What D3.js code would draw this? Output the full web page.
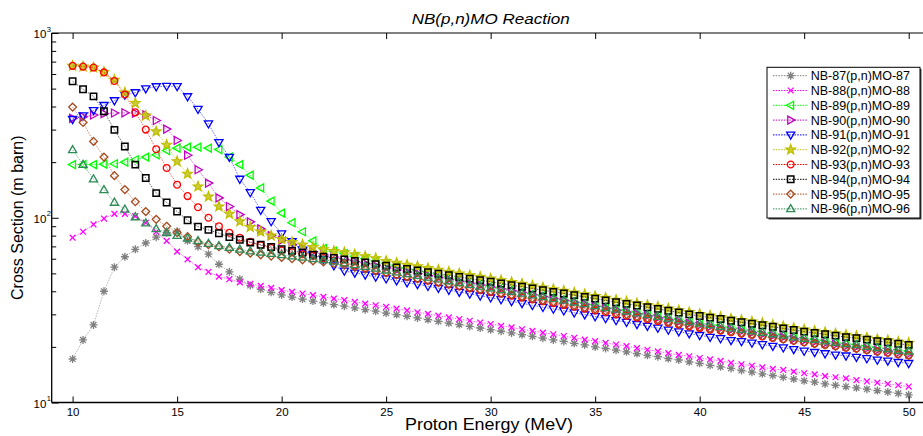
<!DOCTYPE html>
<html><head><meta charset="utf-8">
<script src="https://cdn.jsdelivr.net/npm/d3@7"></script>
<style>body{margin:0;background:#fff}svg{display:block}text{font-family:"Liberation Sans",Arial,Helvetica,sans-serif}</style>
</head><body><svg id="c" width="923" height="436"></svg>
<script>
const energies=[10,10.5,11,11.5,12,12.5,13,13.5,14,14.5,15,15.5,16,16.5,17,17.5,18,18.5,19,19.5,20,20.5,21,21.5,22,22.5,23,23.5,24,24.5,25,25.5,26,26.5,27,27.5,28,28.5,29,29.5,30,30.5,31,31.5,32,32.5,33,33.5,34,34.5,35,35.5,36,36.5,37,37.5,38,38.5,39,39.5,40,40.5,41,41.5,42,42.5,43,43.5,44,44.5,45,45.5,46,46.5,47,47.5,48,48.5,49,49.5,50];

const nb87=[17.2,21.8,26.3,40,54,61.5,67.5,73,78.5,83,84.5,75,69.7,63.5,56,51,46.5,43,41,39.5,38.2,37.2,36.3,35.4,34.6,
33.9,33.2,32.5,31.8,31.2,30.5,29.9,29.3,28.7,28.1,27.5,26.9,26.4,25.8,25.3,24.8,24.3,23.8,23.3,22.8,22.3,21.8,21.4,20.9,20.5,20.0,19.6,19.2,18.8,18.4,18.0,17.7,17.3,17.0,16.6,16.3,15.9,15.6,15.3,14.9,14.6,14.3,14.0,13.7,13.4,13.1,12.9,12.6,12.4,12.2,12.0,11.8,11.6,11.4,11.2,11.0];
const nb88=[78,84,92,99,105,105,102,94,84,75,65.6,59.6,54,51,48,46.5,44.7,43.9,42.8,41.7,40.6,39.7,38.9,38.1,37.3,
36.5,35.8,35.0,34.3,33.6,32.9,32.2,31.5,30.8,30.2,29.5,28.9,28.3,27.7,27.1,26.6,26.0,25.5,24.9,24.4,23.9,23.4,22.9,22.4,21.9,21.5,21.0,20.6,20.2,19.7,19.3,18.9,18.5,18.1,17.8,17.4,17.1,16.8,16.4,16.1,15.8,15.5,15.2,15.0,14.7,14.4,14.2,13.9,13.7,13.5,13.2,13.0,12.8,12.6,12.4,12.2];
const nb89=[194,194,194,195,196,200,206,213,219,231,238,241,241,238,234,213,194,170,145,123,106,94,84,75,68,
65.9,64.0,61.9,60.1,58.3,56.7,55.1,53.5,52.1,50.7,49.3,47.9,46.6,45.2,44.0,42.8,41.8,40.9,39.9,39.0,38.1,37.2,36.4,35.6,34.8,33.9,33.2,32.4,31.7,31.0,30.3,29.7,29.0,28.3,27.6,27.0,26.6,26.2,25.6,25.2,24.7,24.2,23.8,23.3,22.8,22.4,22.0,21.7,21.3,20.9,20.6,20.3,19.9,19.6,19.3,19.0];
const nb90=[345,352,360,366,369,370,368,360,336,302,262,218,182,154,128,115,104,95,87,80,75.5,71.5,68.5,65.5,63,
61.3,59.6,57.9,56.4,54.9,53.5,52.2,50.9,49.7,48.6,47.5,46.4,45.3,44.2,43.2,42.2,41.3,40.3,39.4,38.4,37.4,36.6,35.7,34.9,34.0,33.2,32.4,31.6,30.9,30.2,29.5,28.8,28.1,27.4,26.8,26.2,25.8,25.3,24.8,24.3,23.9,23.4,23.0,22.6,22.1,21.7,21.3,20.9,20.6,20.2,20.0,19.6,19.2,19.0,18.6,18.3];
const nb91=[341,357,381,406,431,462,476,500,513,515,514,453,387,323,256,213,162,137,110,95.5,82,74.5,67,63,59.5,
55,51.5,50.3,49.1,47.9,46.8,45.7,44.6,43.6,42.6,41.6,40.6,39.6,38.7,37.8,36.9,36.1,35.3,34.4,33.6,32.8,32.1,31.4,30.6,29.9,29.2,28.5,27.8,27.2,26.5,25.9,25.3,24.7,24.2,23.6,23.1,22.6,22.2,21.7,21.4,21.0,20.6,20.2,19.8,19.4,19.0,18.7,18.4,18.1,17.9,17.6,17.3,17.0,16.8,16.5,16.3];
const nb92=[664,658,650,615,557,476,417,357,293,248,202,173,147.5,130,115,105,95.5,89,84,80,76.5,73.8,71.5,69.3,67.5,
66,65,63.3,61.8,60.3,58.3,56.9,55.6,54.5,53.3,52.2,51.0,49.9,48.8,47.8,46.8,45.8,44.8,43.9,42.9,41.9,41.0,40.2,39.3,38.5,37.6,36.8,35.9,35.2,34.4,33.7,33.0,32.2,31.5,30.8,30.1,29.5,29.0,28.4,27.9,27.4,26.9,26.3,25.8,25.3,24.8,24.4,24.0,23.6,23.2,22.9,22.4,22.0,21.7,21.3,21.0];
const nb93=[664,658,650,612,550,465,372,300,235,186,151,131,114,100,90,83,78,74,71,68.5,66.5,65,63.5,62.3,60.6,
58.7,56.8,55.1,53.5,52.0,50.6,49.3,47.9,46.8,45.7,44.6,43.6,42.5,41.5,40.6,39.6,38.8,37.9,37.0,36.1,35.3,34.5,33.7,33.0,32.2,31.5,30.8,30.0,29.4,28.8,28.2,27.6,27.0,26.4,25.8,25.3,24.8,24.5,24.0,23.6,23.2,22.8,22.4,22.0,21.6,21.2,20.8,20.5,20.2,19.8,19.6,19.2,18.9,18.6,18.3,18.0];
const nb94=[548,496,454,377,299,243,194,164,136,121,108,97,89.5,86,82.5,78.5,76,73.5,71.4,69.4,67.5,66.2,64.9,63.1,61.5,
60.5,59.5,58.3,57.2,56.1,55.0,53.9,52.8,51.8,50.8,49.8,48.8,47.8,46.8,45.9,45.0,44.1,43.2,42.3,41.4,40.5,39.7,38.9,38.1,37.3,36.5,35.7,34.9,34.2,33.5,32.8,32.1,31.4,30.7,30.0,29.4,28.8,28.3,27.7,27.2,26.7,26.2,25.7,25.2,24.7,24.2,23.8,23.4,23.0,22.6,22.3,21.9,21.5,21.2,20.8,20.5];
const nb95=[397,328,259,213,169,142,122,108,98,90,83,79,74,71.5,69.7,67.5,65.6,64.3,63,62,61,60,59.2,58.4,57.6,
56.4,55.3,53.9,52.7,51.4,50.2,49.0,47.9,46.8,45.8,44.7,43.7,42.7,41.7,40.8,39.9,39.1,38.2,37.4,36.6,35.7,35.0,34.2,33.5,32.7,32.0,31.3,30.5,29.9,29.2,28.6,28.0,27.3,26.7,26.1,25.6,25.1,24.7,24.2,23.7,23.3,22.9,22.4,22.0,21.6,21.2,20.8,20.5,20.1,19.8,19.5,19.2,18.8,18.6,18.2,18.0];
const nb96=[233,194,162,141.5,121,111,101,93.5,87,83,80,77.5,75,72.5,70.5,69,67.5,66,65,64,63,62,61,60,59.2,
58.1,56.9,55.6,54.4,53.2,52.0,50.8,49.7,48.6,47.6,46.6,45.5,44.5,43.5,42.5,41.6,40.7,39.9,39.0,38.1,37.3,36.5,35.7,34.9,34.2,33.4,32.6,31.9,31.2,30.5,29.8,29.2,28.6,27.9,27.3,26.8,26.3,25.8,25.3,24.8,24.4,23.9,23.5,23.1,22.6,22.2,21.9,21.5,21.1,20.8,20.5,20.1,19.8,19.5,19.1,18.9];

const seriesNames=["NB-87(p,n)MO-87","NB-88(p,n)MO-88","NB-89(p,n)MO-89","NB-90(p,n)MO-90","NB-91(p,n)MO-91","NB-92(p,n)MO-92","NB-93(p,n)MO-93","NB-94(p,n)MO-94","NB-95(p,n)MO-95","NB-96(p,n)MO-96"];
const seriesValues=[nb87,nb88,nb89,nb90,nb91,nb92,nb93,nb94,nb95,nb96];
const xTicks=[10,15,20,25,30,35,40,45,50];
const yTicks=[10,100,1000];
const yTickExponents=["1","2","3"];
const yMinorTicks=[20,30,40,50,60,70,80,90,200,300,400,500,600,700,800,900];
const titleText="NB(p,n)MO Reaction";
const xLabel="Proton Energy (MeV)";
const yLabel="Cross Section (m barn)";

const colors=["#808080","#ff00ff","#00ff00","#bf00bf","#0000ff","#bfbf00","#ff0000","#000000","#a64a1e","#2e8b57"];
const markerTypes=["asterisk","x","left","right","down","star","circle","square","diamond","up"];

const svg=d3.select("#c");
const L=51.7,T=33,B=402.5,Rr=929.6;
const x=d3.scaleLinear().domain([9,51]).range([L,Rr]);
const y=d3.scaleLog().domain([10,1000]).range([B,T]);

function starPath(ro,ri){let p=[];for(let i=0;i<10;i++){const a=-Math.PI/2+i*Math.PI/5;const r=i%2?ri:ro;p.push([r*Math.cos(a),r*Math.sin(a)]);}return "M"+p.map(d=>d[0].toFixed(2)+","+d[1].toFixed(2)).join("L")+"Z";}
const markerPaths={
 asterisk:"M-4,0L4,0M0,-4L0,4M-2.9,-2.9L2.9,2.9M-2.9,2.9L2.9,-2.9",
 x:"M-2.9,-2.9L2.9,2.9M-2.9,2.9L2.9,-2.9",
 left:"M-4.3,0L2.9,-4L2.9,4Z",
 right:"M4.3,0L-2.9,-4L-2.9,4Z",
 down:"M0,4.3L-4.1,-2.8L4.1,-2.8Z",
 up:"M0,-4.3L4.1,2.8L-4.1,2.8Z",
 star:starPath(5,2.1),
 circle:"M3.4,0A3.4,3.4 0 1,1 -3.4,0A3.4,3.4 0 1,1 3.4,0Z",
 square:"M-3.2,-3.2H3.2V3.2H-3.2Z",
 diamond:"M0,-3.9L3.9,0L0,3.9L-3.9,0Z"
};
function markerFill(i){return markerTypes[i]==="star"?colors[i]:"none";}

svg.append("rect").attr("x",0).attr("y",0).attr("width",923).attr("height",436).attr("fill","#fff");
svg.append("defs").append("clipPath").attr("id","clip").append("rect").attr("x",L).attr("y",T).attr("width",Rr-L).attr("height",B-T);

const plot=svg.append("g").attr("clip-path","url(#clip)");
const line=d3.line().x((d,i)=>x(energies[i])).y(d=>y(d));
seriesValues.forEach((vals,si)=>{
  const g=plot.append("g");
  g.append("path").attr("d",line(vals)).attr("fill","none").attr("stroke",colors[si]).attr("stroke-width",1).attr("stroke-dasharray","1.5,1.2").attr("opacity",0.6);
  g.selectAll("path.m").data(vals).enter().append("path").attr("class","m")
    .attr("d",markerPaths[markerTypes[si]])
    .attr("transform",(d,i)=>`translate(${x(energies[i])},${y(d)})`)
    .attr("fill",markerFill(si)).attr("fill-opacity",0.75)
    .attr("stroke",colors[si]).attr("stroke-width",markerTypes[si]==="square"?1.5:1.3);
});

// axes frame
const ax=svg.append("g").attr("stroke","#000").attr("fill","none");
ax.append("line").attr("x1",L).attr("x2",Rr).attr("y1",B).attr("y2",B).attr("stroke-width",1.3);
ax.append("line").attr("x1",L).attr("x2",Rr).attr("y1",T).attr("y2",T);
ax.append("line").attr("x1",L).attr("x2",L).attr("y1",T).attr("y2",B).attr("stroke-width",1.3);

const xb=svg.append("g").attr("transform",`translate(0,${B})`).call(d3.axisBottom(x).tickValues(xTicks).tickSizeInner(-6).tickSizeOuter(0).tickPadding(5).tickFormat(d3.format("d")));
xb.select(".domain").remove();
xb.selectAll("text").attr("font-size","11.5px").attr("font-family","Liberation Sans, Arial, sans-serif");
const xt=svg.append("g").attr("transform",`translate(0,${T})`).call(d3.axisTop(x).tickValues(xTicks).tickSizeInner(-6).tickSizeOuter(0).tickFormat(""));
xt.select(".domain").remove();

const yl=svg.append("g").attr("transform",`translate(${L},0)`).call(d3.axisLeft(y).tickValues(yTicks).tickSizeInner(-7).tickSizeOuter(0).tickFormat(""));
yl.select(".domain").remove();
const ym=svg.append("g").attr("transform",`translate(${L},0)`).call(d3.axisLeft(y).tickValues(yMinorTicks).tickSizeInner(-4.5).tickSizeOuter(0).tickFormat(""));
ym.select(".domain").remove();

yTicks.forEach((t,i)=>{
  const ty=y(t);
  svg.append("text").attr("x",33.5).attr("y",ty+5).attr("font-size","11.5px").attr("fill","#000").text("10");
  svg.append("text").attr("x",46.8).attr("y",ty-1.5).attr("font-size","7.5px").attr("fill","#000").text(yTickExponents[i]);
});

svg.append("text").attr("x",(L+Rr)/2).attr("y",23.5).attr("text-anchor","middle").attr("font-size","14px").attr("font-style","italic")
  .attr("textLength",158).attr("lengthAdjust","spacingAndGlyphs").text(titleText);
svg.append("text").attr("x",489).attr("y",430).attr("text-anchor","middle").attr("font-size","16px")
  .attr("textLength",168).attr("lengthAdjust","spacingAndGlyphs").text(xLabel);
svg.append("text").attr("transform",`translate(23,${(T+B)/2}) rotate(-90)`).attr("text-anchor","middle").attr("font-size","16px").text(yLabel);

// legend
const lg=svg.append("g");
const lx=767,ly=67.3,lw=153,lh=150.7;
lg.append("rect").attr("x",lx+1.5).attr("y",ly+1.5).attr("width",lw).attr("height",lh).attr("fill","#444");
lg.append("rect").attr("x",lx).attr("y",ly).attr("width",lw).attr("height",lh).attr("fill","#fff").attr("stroke","#000").attr("stroke-width",1);
seriesNames.forEach((nm,i)=>{
  const ry=ly+8.4+i*14.8;
  lg.append("line").attr("x1",lx+6).attr("x2",lx+41).attr("y1",ry).attr("y2",ry).attr("stroke",colors[i]).attr("stroke-width",1).attr("stroke-dasharray","1.5,1.2");
  lg.append("path").attr("d",markerPaths[markerTypes[i]]).attr("transform",`translate(${lx+23.7},${ry})`)
    .attr("fill",markerFill(i)).attr("fill-opacity",0.75).attr("stroke",colors[i]).attr("stroke-width",markerTypes[i]==="square"?1.5:1.3);
  lg.append("text").attr("x",lx+43.7).attr("y",ry+4.5).attr("font-size","12.5px").attr("fill","#000").text(nm);
});
</script></body></html>
